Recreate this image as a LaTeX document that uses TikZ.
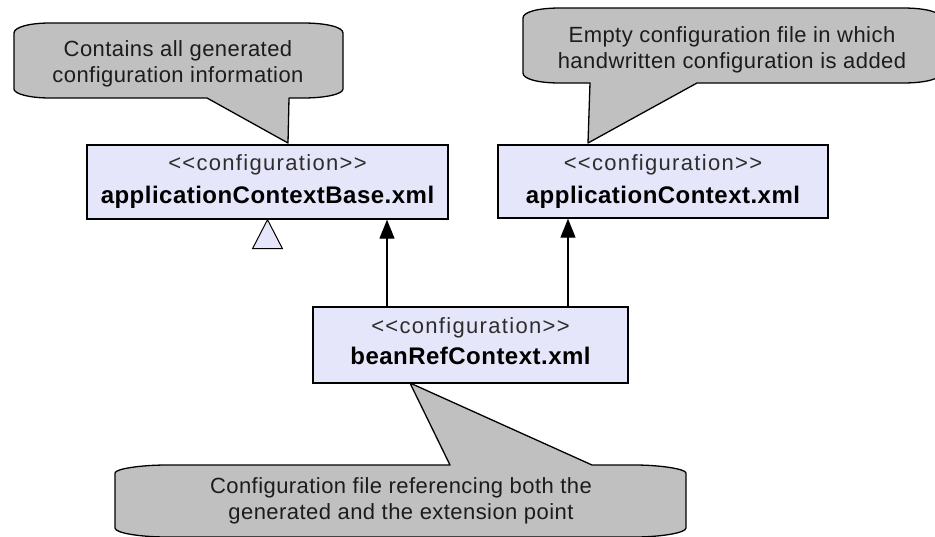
\documentclass[tikz,border=0pt]{standalone}
\usepackage{fontspec}
\setmainfont{Liberation Sans}
\newfontfamily\calfont[LetterSpace=2]{Liberation Sans}
\newfontfamily\sterfont[LetterSpace=6,Ligatures=TeXOff]{Liberation Sans}
\newfontfamily\namefont[LetterSpace=2]{Liberation Sans}
\usetikzlibrary{arrows.meta}
\definecolor{boxfill}{RGB}{230,230,250}
\definecolor{calfill}{RGB}{192,192,192}
\definecolor{caltext}{RGB}{28,28,28}
\definecolor{stertext}{RGB}{45,45,45}
\tikzset{
  umlbox/.style={draw=black, line width=1.4pt, fill=boxfill, inner sep=0pt},
  callout/.style={draw=black, line width=1.3pt, fill=calfill, line join=round},
  ctext/.style={anchor=base, inner sep=0pt, text=caltext, font=\calfont\fontsize{22}{26}\selectfont},
  stext/.style={anchor=base, inner sep=0pt, text=stertext, font=\sterfont\fontsize{22}{26}\selectfont},
  ntext/.style={anchor=base, inner sep=0pt, text=black, font=\namefont\bfseries\fontsize{24}{28}\selectfont},
  conn/.style={draw=black, line width=1.3pt, -{Triangle[length=19pt,width=15pt]}},
  genhead/.style={draw=black, line width=1pt, fill=boxfill, line join=miter}
}
\begin{document}
\begin{tikzpicture}[x=1pt,y=-1pt]
\useasboundingbox (0,0) rectangle (935,536);
\fill[white] (0,0) rectangle (935,536);
\clip (0,0) rectangle (935,536);

% callouts
\draw[callout] (50,23) -- (303,23) .. controls (326,23) and (343,27) .. (343,33)
  -- (343,89) .. controls (343,94) and (326,98) .. (303,98) -- (289,98) -- (288,143)
  -- (207,98) -- (50,98) .. controls (30,98) and (14,94) .. (14,89) -- (14,33)
  .. controls (14,27) and (30,23) .. (50,23) -- cycle;
\draw[callout] (560,8) -- (903,8) .. controls (925,8) and (941,12) .. (941,18)
  -- (941,73) .. controls (941,79) and (925,83) .. (903,83) -- (697,83) -- (588,143)
  -- (590,83) -- (560,83) .. controls (538,83) and (523,79) .. (523,73) -- (523,18)
  .. controls (523,12) and (538,8) .. (560,8) -- cycle;
\draw[callout] (167,465) -- (450,465) -- (410,383) -- (592,465) -- (635,465)
  .. controls (660,465) and (686,469) .. (686,473) -- (686,528)
  .. controls (686,533) and (660,537) .. (635,537) -- (167,537)
  .. controls (140,537) and (115,533) .. (115,528) -- (115,473)
  .. controls (115,469) and (140,465) .. (167,465) -- cycle;

\node[ctext] (c1a) at (178,56) {Contains all generated};
\node[ctext] (c1b) at (178,82) {configuration information};
\node[ctext] (c2a) at (732,42) {Empty configuration file in which};
\node[ctext] (c2b) at (732,68) {handwritten configuration is added};
\node[ctext] (c3a) at (401,493) {Configuration file referencing both the};
\node[ctext] (c3b) at (401,519) {generated and the extension point};

% boxes
\node[umlbox, minimum width=361pt, minimum height=74pt] (base) at (267.5,182) {};
\node[umlbox, minimum width=330pt, minimum height=73pt] (ac) at (663,181.5) {};
\node[umlbox, minimum width=315pt, minimum height=76pt] (bean) at (470.5,345) {};

\node[stext] (baseS) at ([yshift=-26pt]base.north) {<<configuration>>};
\node[ntext] (baseN) at ([yshift=-59pt]base.north) {applicationContextBase.xml};
\node[stext] (acS) at ([yshift=-26pt]ac.north) {<<configuration>>};
\node[ntext] (acN) at ([yshift=-59pt]ac.north) {applicationContext.xml};
\node[stext] (beanS) at ([yshift=-27pt]bean.north) {<<configuration>>};
\node[ntext] (beanN) at ([yshift=-58pt]bean.north) {beanRefContext.xml};

% generalization head
\draw[genhead] (base.south) -- ++(15,29) -- ++(-30,0) -- cycle;

% dependencies
\coordinate (xL) at (387,0);
\coordinate (xR) at (568,0);
\draw[conn] (bean.north -| xL) -- (base.south -| xL);
\draw[conn] (bean.north -| xR) -- (ac.south -| xR);
\end{tikzpicture}
\end{document}
